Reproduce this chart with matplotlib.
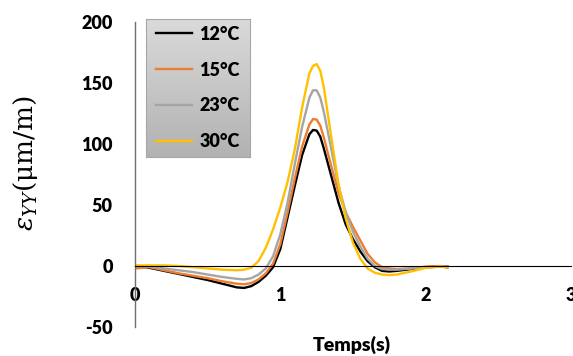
import matplotlib
matplotlib.use("Agg")
import matplotlib.pyplot as plt
import numpy as np

# time samples (s)
t = [0, 0.1, 0.2, 0.3, 0.4, 0.5, 0.6, 0.7, 0.75, 0.8, 0.85, 0.9, 0.95,
     1.0, 1.05, 1.1, 1.15, 1.2, 1.225, 1.25, 1.275, 1.3, 1.35, 1.4, 1.45,
     1.5, 1.55, 1.6, 1.65, 1.7, 1.75, 1.8, 1.9, 2.0, 2.1, 2.15]

# strain eps_YY (um/m) per temperature
e12 = [0, -1.5, -4, -6.5, -9, -11.5, -14.5, -17.5, -18, -16.5, -13, -8, -1,
       14, 40, 66, 91, 108, 111.5, 111, 106, 96, 74, 52, 34,
       22, 12, 4, -1, -4, -4.5, -4, -2.5, -1, -0.5, -0.5]
e15 = [-2, -1, -3.5, -6, -8, -10, -12.5, -14.5, -15, -14, -11, -6, 2,
       18, 44, 72, 98, 116, 120.5, 120, 115, 105, 82, 60, 44,
       32, 21, 10, 3, -1, -2, -2.5, -2, -0.5, 0, -1.5]
e23 = [0, -0.5, -2, -3.5, -5, -7, -9, -10.5, -11, -10, -7, -2, 8,
       26, 52, 84, 114, 138, 144, 144, 138, 126, 96, 66, 44,
       28, 16, 6, 0, -2.5, -3, -3, -2, -1, -0.5, -0.5]
e30 = [0.5, 0.5, 0.5, 0, -1, -2, -3, -3.5, -3, -1.5, 4, 15, 30,
       48, 69, 96, 130, 158, 164, 165.5, 160, 146, 106, 67, 39,
       19, 6, -2, -5.5, -7, -7.5, -7, -4.5, -1.5, -0.5, -1]

labels = ["12°C", "15°C", "23°C", "30°C"]
colors = ["#000000", "#ED7D31", "#A5A5A5", "#FFC000"]

plt.rcParams['font.family'] = ['Lato', 'DejaVu Sans']
plt.rcParams['axes.unicode_minus'] = False

fig = plt.figure(figsize=(5.73, 3.56), dpi=100)
ax = fig.add_axes([135/573, 1-327/356, 436/573, 305/356])

lines = []
for y, c, lab in zip([e12, e15, e23, e30], colors, labels):
    ln, = ax.plot(t, y, color=c, lw=1.7, label=lab, solid_joinstyle='round')
    lines.append(ln)

ax.set_xlim(0, 3)
ax.set_ylim(-50, 200)
ax.set_xticks([0, 1, 2, 3])
ax.set_yticks([-50, 0, 50, 100, 150, 200])
ax.spines['top'].set_visible(False)
ax.spines['right'].set_visible(False)
ax.spines['bottom'].set_position(('data', 0))
ax.spines['bottom'].set_color('black')
ax.spines['bottom'].set_linewidth(0.8)
ax.spines['left'].set_color('#6e6e6e')
ax.spines['left'].set_linewidth(1.0)
ax.tick_params(axis='x', length=0, pad=15, labelsize=13)
ax.tick_params(axis='y', length=0, pad=16, labelsize=13)
for lbl in ax.get_xticklabels() + ax.get_yticklabels():
    lbl.set_fontweight('heavy')

# legend with gradient background
lax = fig.add_axes([146/573, 1-157/356, 104/573, 138/356])
grad = np.linspace(0, 1, 100).reshape(-1, 1)
lax.imshow(grad, cmap=matplotlib.colors.LinearSegmentedColormap.from_list(
    'g', ['#dadada', '#b2b2b2']), aspect='auto', extent=[0, 1, 0, 1])
lax.set_xticks([])
lax.set_yticks([])
for s in lax.spines.values():
    s.set_color('#a6a6a6')
lax.legend(handles=lines, loc='center', frameon=False,
           prop={'weight': 'heavy', 'size': 13}, handlelength=2.0,
           labelspacing=1.05, handletextpad=0.4)

fig.text(352/573, 1-345/356, "Temps(s)", ha='center', va='center',
         fontsize=14, fontweight='heavy')
fig.text(25/573, 1-163/356, r"$\varepsilon_{YY}$(μm/m)", ha='center',
         va='center', rotation=90, fontsize=19, family='DejaVu Serif',
         math_fontfamily='dejavuserif')

fig.savefig("out.png", dpi=100)
